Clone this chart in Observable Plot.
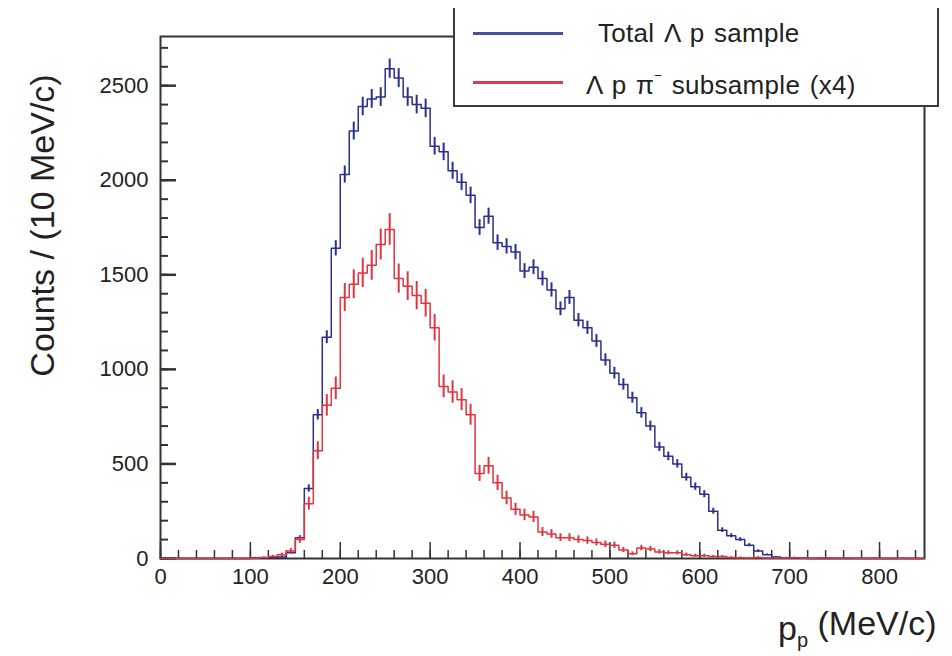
<!DOCTYPE html>
<html>
<head>
<meta charset="utf-8">
<script src="https://cdn.jsdelivr.net/npm/d3@7"></script>
<script src="https://cdn.jsdelivr.net/npm/@observablehq/plot@0.6"></script>
<style>
  body { margin: 0; background: #fff; font-family: "Liberation Sans", Arial, sans-serif; }
  #wrap { position: relative; width: 952px; height: 656px; overflow: hidden; }
  #legend { position: absolute; left: 453px; top: 8px; width: 482px; height: 97px;
            border: 2px solid #3a3a3a; border-top: none; background: #fff; }
  .sw { position: absolute; left: 18px; width: 90px; height: 3px; }
  .lab { position: absolute; font-size: 26px; color: #222; line-height: 1; white-space: nowrap;
         letter-spacing: 0.3px; word-spacing: 2px; }
  .lab sup { font-size: 13px; vertical-align: 14px; }
</style>
</head>
<body>
<div id="wrap">
  <div id="chart"></div>
  <div id="legend">
    <div class="sw" style="top:24px;background:#4a4f9a"></div>
    <div class="lab" style="left:143px;top:12px">Total Λ p sample</div>
    <div class="sw" style="top:73px;background:#d8404e"></div>
    <div class="lab" style="left:131px;top:61px">Λ p π<sup>−</sup> subsample (x4)</div>
  </div>
</div>
<script>
// Bin edges: 10 MeV/c bins from 0 to 850 MeV/c
const binWidth = 10;
const xMax = 850;
const binStarts = d3.range(0, xMax, binWidth);

// Total Λp sample, counts per bin (bins starting at 0,10,...,840)
const totalCounts = [
  0, 0, 0, 0, 0, 0, 0, 0, 0, 0,
  2, 3, 5, 8, 30, 110, 370, 760, 1170, 1640,
  2030, 2260, 2390, 2430, 2440, 2590, 2540, 2440, 2400, 2380,
  2180, 2150, 2050, 1990, 1920, 1750, 1810, 1670, 1650, 1620,
  1520, 1540, 1480, 1420, 1320, 1380, 1260, 1220, 1150, 1050,
  980, 920, 850, 770, 700, 590, 540, 500, 430, 380,
  340, 250, 150, 120, 100, 70, 40, 20, 8, 4,
  2, 1, 0, 0, 0, 0, 0, 0, 0, 0,
  0, 0, 0, 0, 0
];

// Λpπ− subsample, counts per bin, already scaled x4
const subsampleCounts = [
  0, 0, 0, 0, 0, 0, 0, 0, 0, 0,
  3, 5, 10, 20, 40, 100, 290, 570, 810, 900,
  1380, 1450, 1510, 1550, 1660, 1740, 1480, 1440, 1390, 1350,
  1220, 910, 880, 840, 760, 450, 490, 400, 320, 260,
  230, 220, 140, 130, 110, 110, 100, 95, 85, 75,
  70, 45, 25, 55, 50, 35, 30, 30, 20, 15,
  15, 10, 10, 5, 4, 3, 5, 2, 3, 2,
  4, 2, 1, 3, 2, 1, 2, 1, 0, 1,
  0, 0, 1, 0, 0
];
const subsampleScale = 4;

const xTicks = [0, 100, 200, 300, 400, 500, 600, 700, 800];
const yTicks = [0, 500, 1000, 1500, 2000, 2500];
const xMinorTicks = d3.range(0, 850, 20);
const yMinorTicks = d3.range(0, 2800, 100);

const yLabel = "Counts / (10 MeV/c)";
const xLabel = "p_p (MeV/c)";

const colors = { total: "#2b2f8e", sub: "#e0343f" };

function stepPoints(counts) {
  const pts = binStarts.map((x, i) => ({ x, y: counts[i] }));
  pts.push({ x: xMax, y: counts[counts.length - 1] });
  return pts;
}
// Poisson error bars; the subsample is scaled by 4 so its error scales accordingly
function errorBars(counts, scale) {
  return binStarts.map((x, i) => {
    const v = counts[i];
    const e = Math.sqrt(v * scale);
    return { x: x + binWidth / 2, y1: Math.max(0, v - e), y2: v + e, v };
  }).filter(d => d.v > 0);
}

const W = 952, H = 656;
const mL = 160, mR = 28, mT = 36, mB = 98;
const plotW = W - mL - mR, plotH = H - mT - mB;

const chart = Plot.plot({
  width: W, height: H,
  marginLeft: mL, marginRight: mR, marginTop: mT, marginBottom: mB,
  style: { fontFamily: "'Liberation Sans', Arial, sans-serif", background: "#fff", color: "#222" },
  x: { domain: [0, xMax] },
  y: { domain: [0, 2760] },
  marks: [
    Plot.axisX({ ticks: xTicks, tickFormat: d => String(d), tickSize: 0, tickPadding: 10, fontSize: 22, label: null }),
    Plot.axisY({ ticks: yTicks, tickFormat: d => String(d), tickSize: 0, tickPadding: 12, fontSize: 22, label: null }),
    Plot.tickX(xMinorTicks, { x: d => d, insetTop: plotH - 8, stroke: "#333", strokeWidth: 1.5 }),
    Plot.tickX(xTicks, { x: d => d, insetTop: plotH - 16, stroke: "#333", strokeWidth: 1.5 }),
    Plot.tickY(yMinorTicks, { y: d => d, insetRight: plotW - 8, stroke: "#333", strokeWidth: 2 }),
    Plot.tickY(yTicks, { y: d => d, insetRight: plotW - 16, stroke: "#333", strokeWidth: 2.5 }),
    Plot.frame({ stroke: "#333", strokeWidth: 2 }),
    Plot.line(stepPoints(totalCounts), { x: "x", y: "y", curve: "step-after", stroke: colors.total, strokeWidth: 1.5 }),
    Plot.ruleX(errorBars(totalCounts, 1), { x: "x", y1: "y1", y2: "y2", stroke: colors.total, strokeWidth: 2 }),
    Plot.line(stepPoints(subsampleCounts), { x: "x", y: "y", curve: "step-after", stroke: colors.sub, strokeWidth: 1.5 }),
    Plot.ruleX(errorBars(subsampleCounts, subsampleScale), { x: "x", y1: "y1", y2: "y2", stroke: colors.sub, strokeWidth: 2 }),
    Plot.text([yLabel], { text: d => d, frameAnchor: "left", dx: -117, dy: -72, rotate: -90,
      textAnchor: "middle", lineAnchor: "middle", fontSize: 34, fill: "#222" }),
    Plot.text([xLabel], { text: d => d, frameAnchor: "bottom-right", dx: 12, dy: 71,
      textAnchor: "end", lineAnchor: "middle", fontSize: 34, fill: "#222" })
  ]
});
document.getElementById("chart").appendChild(chart);

// render the subscript in the x-axis title
d3.select(chart).selectAll("text").each(function () {
  if (this.textContent === xLabel) {
    const t = d3.select(this);
    t.text(null);
    t.append("tspan").text("p");
    t.append("tspan").attr("font-size", 20).attr("dy", "0.35em").text("p");
    t.append("tspan").attr("dy", "-0.35em").text(" (MeV/c)");
  }
});
</script>
</body>
</html>
